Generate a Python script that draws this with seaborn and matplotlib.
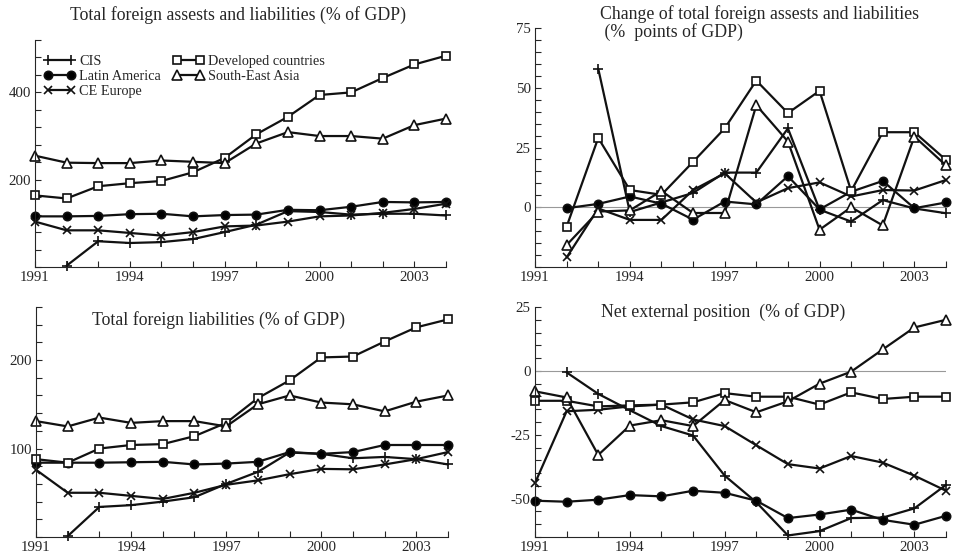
import numpy as np
import pandas as pd
import matplotlib
matplotlib.use('Agg')
import matplotlib.pyplot as plt
import seaborn as sns

nan = np.nan
years = list(range(1991, 2005))
series = ['CIS', 'Latin America', 'CE Europe', 'Developed countries', 'South-East Asia']

# total foreign assets and liabilities, % of GDP
cis_tot = [nan, 3, 59, 55, 57, 64, 80, 97, 128, 126, 120, 122, 122, 118]
latam_tot = [116, 116, 117, 121, 122, 116, 119, 120, 131, 130, 138, 149, 148, 149]
cee_tot = [104, 84, 84, 78, 72, 80, 93, 95, 104, 116, 118, 124, 133, 145]
dev_tot = [164, 157, 185, 192, 197, 217, 250, 304, 344, 394, 400, 433, 464, 484]
sea_tot = [255, 239, 238, 238, 244, 241, 238, 283, 309, 300, 300, 294, 325, 340]

# change of total, % points of GDP
cis_chg = [nan, nan, 58, -2, 2, 6, 14.5, 14.5, 33, -1, -6, 3, -0.5, -2.5]
latam_chg = [nan, -0.4, 1.4, 4.5, 1.5, -5.2, 2.4, 1.2, 13, -0.9, 6.5, 11, -0.4, 2]
cee_chg = [nan, -21, -0.5, -5.3, -5.3, 7.2, 14.2, 2, 8, 10.4, 4.5, 7.2, 7, 11.4]
dev_chg = [nan, -8.1, 29, 7.2, 5.2, 19, 33, 53, 39.4, 48.7, 6.8, 31.4, 31.4, 19.8]
sea_chg = [nan, -15.8, -1.8, -1.3, 6.8, -2.4, -2.4, 42.7, 27.5, -9.4, 0, -7.6, 29.6, 17.5]

# total foreign liabilities, % of GDP
cis_liab = [nan, 1, 34, 36, 40, 45, 60, 73.6, 95.5, 94, 89, 90.5, 88, 82]
latam_liab = [84, 84, 84, 84.5, 85, 82, 83, 85, 96, 94, 96, 104, 104, 104]
cee_liab = [76, 50, 50, 46.5, 43, 50, 59, 64, 71, 77, 76.5, 82, 88, 96]
dev_liab = [88, 84, 100, 104, 105, 114, 129, 157, 177, 203, 204, 221, 237, 246]
sea_liab = [131, 125, 135, 129, 131, 131, 125, 150, 160, 152, 150, 142, 153, 160]

# net external position, % of GDP
cis_net = [nan, -0.6, -9, -15.4, -21.6, -25.3, -41, -51.4, -64.4, -62.7, -57.6, -57.4, -53.8, -44.6]
latam_net = [-50.8, -51.2, -50.4, -48.6, -49.1, -46.9, -47.7, -50.8, -57.6, -56.2, -54.3, -58.3, -60.2, -56.7]
cee_net = [-43.9, -15.8, -15.2, -13.9, -13.2, -19, -21.6, -29.1, -36.5, -38.2, -33.3, -35.9, -41, -46.9]
dev_net = [-11.7, -11.7, -13.9, -13.5, -13.2, -12.3, -8.7, -10.1, -10.1, -13.2, -8.4, -11, -10.1, -10.1]
sea_net = [-8, -10.4, -32.9, -21.4, -19.3, -21.6, -11.4, -16.2, -11.9, -5, -0.3, 8.4, 17, 20]

sns.set_style('ticks')
plt.rcParams['font.family'] = ['Liberation Serif', 'DejaVu Serif']
plt.rcParams['font.size'] = 10.5

styles = {
    'CIS': dict(marker='+', markerfacecolor='black', markersize=7),
    'Latin America': dict(marker='o', markerfacecolor='black', markersize=6),
    'CE Europe': dict(marker='x', markerfacecolor='black', markersize=6),
    'Developed countries': dict(marker='s', markerfacecolor='white', markersize=5.5),
    'South-East Asia': dict(marker='^', markerfacecolor='white', markersize=6.5),
}

W, H = 957, 560
fig = plt.figure(figsize=(W / 100, H / 100), dpi=100)


def px_axes(l, t, r, b):
    return fig.add_axes([l / W, 1 - b / H, (r - l) / W, (b - t) / H])


def draw_panel(ax, data, ymin, ymax, step, labelled, zero_line=False):
    if zero_line:
        ax.axhline(0, color='#999999', lw=0.8, zorder=1)
    for name, vals in zip(series, data):
        df = pd.DataFrame({'year': years, 'value': vals}).dropna()
        sns.lineplot(data=df, x='year', y='value', ax=ax, color='#111111', lw=1.6,
                     markeredgecolor='#111111', markeredgewidth=1.2, clip_on=False,
                     label=name, legend=False, **styles[name])
    ax.set_xlim(1991, 2004)
    ax.set_ylim(ymin, ymax)
    ax.set_xticks(years)
    ax.set_xticklabels([str(y) if (y - 1991) % 3 == 0 else '' for y in years])
    yt = np.arange(ymin, ymax + step / 2, step)
    ax.set_yticks(yt)
    ax.set_yticklabels([str(int(v)) if int(v) in labelled else '' for v in yt])
    ax.tick_params(direction='in', length=4, width=0.8, labelsize=10.7, pad=3)
    ax.set_xlabel('')
    ax.set_ylabel('')
    for s in ['top', 'right']:
        ax.spines[s].set_visible(False)
    for s in ['left', 'bottom']:
        ax.spines[s].set_linewidth(0.8)


ax1 = px_axes(35, 40, 446, 267)
draw_panel(ax1, [cis_tot, latam_tot, cee_tot, dev_tot, sea_tot], 0, 520, 40, (200, 400))
ax1.legend(ncol=2, frameon=False, loc='upper left', bbox_to_anchor=(0.0, 0.97),
           numpoints=2, fontsize=10.3, handlelength=2.2, handletextpad=0.3,
           columnspacing=0.8, labelspacing=0.12, borderaxespad=0.2)

ax2 = px_axes(535, 28, 946, 267)
draw_panel(ax2, [cis_chg, latam_chg, cee_chg, dev_chg, sea_chg], -25, 75, 5, (0, 25, 50, 75), zero_line=True)

ax3 = px_axes(36, 307, 448, 537)
draw_panel(ax3, [cis_liab, latam_liab, cee_liab, dev_liab, sea_liab], 0, 260, 20, (100, 200))

ax4 = px_axes(535, 307, 946, 537)
draw_panel(ax4, [cis_net, latam_net, cee_net, dev_net, sea_net], -65, 25, 5, (-50, -25, 0, 25), zero_line=True)

fig.text(238 / W, 1 - 15.5 / H, 'Total foreign assests and liabilities (% of GDP)',
         ha='center', va='center', fontsize=12.8)
fig.text(600 / W, 1 - 5 / H, 'Change of total foreign assests and liabilities\n (%  points of GDP)',
         ha='left', va='top', fontsize=12.8, linespacing=1.0)
fig.text(218 / W, 1 - 320 / H, 'Total foreign liabilities (% of GDP)',
         ha='center', va='center', fontsize=12.8)
fig.text(723 / W, 1 - 312 / H, 'Net external position  (% of GDP)',
         ha='center', va='center', fontsize=12.8)

fig.savefig('out.png', dpi=100)
